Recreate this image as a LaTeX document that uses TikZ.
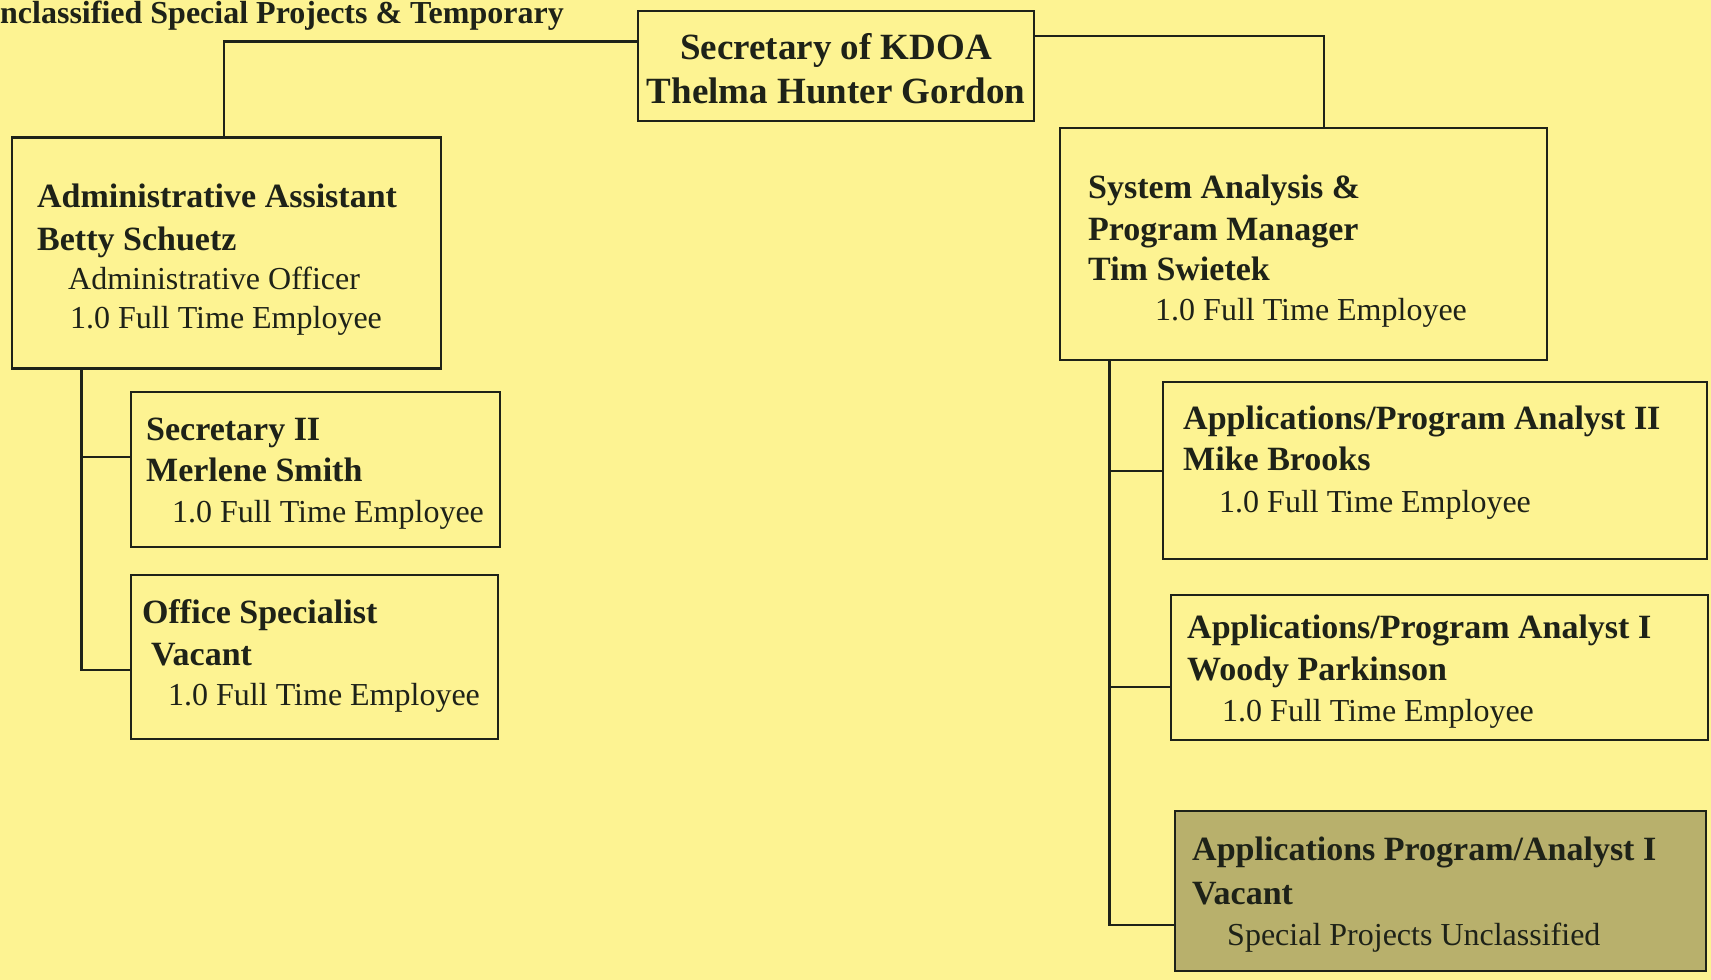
\documentclass[tikz,border=0pt]{standalone}
\usepackage{fontspec}
\setmainfont{Liberation Serif}
\definecolor{bg}{RGB}{253,243,146}
\definecolor{shade}{RGB}{184,176,108}
\definecolor{ink}{RGB}{30,34,24}
\begin{document}
\begin{tikzpicture}[x=1pt,y=-1pt,
  box/.style={draw=ink, line width=2.6pt, fill=bg, rectangle, inner sep=0pt},
  bt/.style={font=\fontsize{34}{40}\selectfont\bfseries, text=ink, inner sep=0pt, anchor=base west},
  nt/.style={font=\fontsize{32}{38}\selectfont, text=ink, inner sep=0pt, anchor=base west},
  link/.style={draw=ink, line width=2.6pt, line join=miter}]
\fill[bg] (0,0) rectangle (1711,980);
\useasboundingbox (0,0) rectangle (1711,980);

% boxes
\node[box, minimum width=396pt, minimum height=110pt] (sec) at (836,66) {};
\node[box, minimum width=429pt, minimum height=231.5pt] (adm) at (226.5,253) {};
\node[box, minimum width=369pt, minimum height=155pt] (sec2) at (315.5,469.5) {};
\node[box, minimum width=367pt, minimum height=164pt] (os) at (314.5,657) {};
\node[box, minimum width=487pt, minimum height=232pt] (sa) at (1303.5,244) {};
\node[box, minimum width=544pt, minimum height=177pt] (ap2) at (1435,470.5) {};
\node[box, minimum width=537pt, minimum height=145pt] (ap1) at (1439.5,667.5) {};
\node[box, fill=shade, minimum width=531pt, minimum height=160pt] (vac) at (1440.5,891) {};

% connectors
\draw[link] ([yshift=24.5pt]sec.west) -| ([xshift=-2.5pt]adm.north);
\draw[link] ([yshift=30pt]sec.east) -| ([xshift=20.5pt]sa.north);
\coordinate (lv) at ([xshift=71pt]adm.south west);
\draw[link] (lv) |- ([yshift=12.5pt]sec2.west);
\draw[link] (lv) |- ([yshift=-13pt]os.west);
\coordinate (rv) at ([xshift=51pt]sa.south west);
\draw[link] (rv) |- ([yshift=-0.5pt]ap2.west);
\draw[link] (rv) |- ([yshift=-19.5pt]ap1.west);
\draw[link] (rv) |- ([yshift=-34pt]vac.west);

% texts
\node[bt, font=\fontsize{32}{38}\selectfont\bfseries] (topT) at (0,23) {nclassified Special Projects \& Temporary};

\node[bt, anchor=base, font=\fontsize{37}{44}\selectfont\bfseries] (secT1) at (836,59) {Secretary of KDOA};
\node[bt, anchor=base, font=\fontsize{37}{44}\selectfont\bfseries] (secT2) at (836,103) {Thelma Hunter Gordon};

\node[bt] (admT1) at (37,207) {Administrative Assistant};
\node[bt] (admT2) at (37,250) {Betty Schuetz};
\node[nt] (admT3) at (68,289) {Administrative Officer};
\node[nt] (admT4) at (70,328) {1.0 Full Time Employee};

\node[bt] (sec2T1) at (146,440) {Secretary II};
\node[bt] (sec2T2) at (146,481) {Merlene Smith};
\node[nt] (sec2T3) at (172,522) {1.0 Full Time Employee};

\node[bt] (osT1) at (142,623) {Office Specialist};
\node[bt] (osT2) at (151,665) {Vacant};
\node[nt] (osT3) at (168,705) {1.0 Full Time Employee};

\node[bt] (saT1) at (1088,198) {System Analysis \&};
\node[bt] (saT2) at (1088,240) {Program Manager};
\node[bt] (saT3) at (1088,280) {Tim Swietek};
\node[nt] (saT4) at (1155,320) {1.0 Full Time Employee};

\node[bt] (ap2T1) at (1183,429) {Applications/Program Analyst II};
\node[bt] (ap2T2) at (1183,470) {Mike Brooks};
\node[nt] (ap2T3) at (1219,512) {1.0 Full Time Employee};

\node[bt] (ap1T1) at (1187,638) {Applications/Program Analyst I};
\node[bt] (ap1T2) at (1187,680) {Woody Parkinson};
\node[nt] (ap1T3) at (1222,721) {1.0 Full Time Employee};

\node[bt] (vacT1) at (1192,860) {Applications Program/Analyst I};
\node[bt] (vacT2) at (1192,904) {Vacant};
\node[nt] (vacT3) at (1227,945) {Special Projects Unclassified};
\end{tikzpicture}
\end{document}
